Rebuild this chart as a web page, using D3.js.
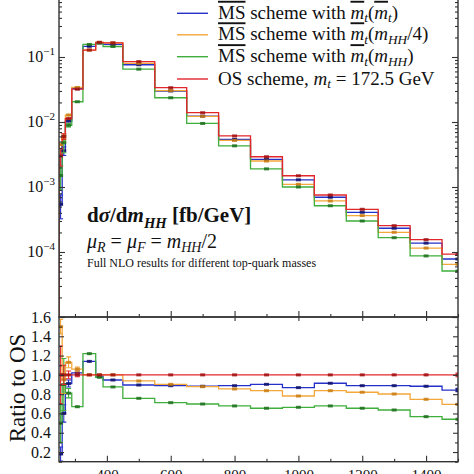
<!DOCTYPE html>
<html><head><meta charset="utf-8">
<script src="https://cdn.jsdelivr.net/npm/d3@7"></script>
<style>
html,body{margin:0;padding:0;background:#fff;}
svg{display:block;font-family:"Liberation Serif","Times New Roman",serif;}
</style>
</head><body>
<svg id="chart" width="474" height="474"></svg>
<script>
// ---------- data ----------
const binEdges = [250, 260, 270, 290, 325, 365, 388, 450, 550, 650, 750, 850, 950, 1050, 1150, 1250, 1350, 1450, 1550];

const seriesKeys   = ["msbarMt", "msbarMhh4", "msbarMhh", "os"];
const seriesColors = ["#2430c8", "#f4a73a", "#3fae3c", "#e3262b"];
const markerColors = ["#10106a", "#c97d12", "#1f6f1f", "#a01010"];

// dsigma/dm_HH [fb/GeV]
const xsMsbarMt   = [0.00054, 0.0036, 0.0103, 0.0326, 0.146, 0.166, 0.156, 0.076, 0.0300, 0.0123, 0.0054, 0.00267, 0.00129, 0.000695, 0.000408, 0.000232, 0.000137, 0.000078];
const xsMsbarMhh4 = [0.0045, 0.0057, 0.0128, 0.0340, 0.128, 0.168, 0.165, 0.080, 0.0304, 0.0122, 0.0052, 0.00251, 0.00110, 0.000610, 0.000363, 0.000201, 0.000115, 0.0000646];
const xsMsbarMhh  = [0.0015, 0.0048, 0.0089, 0.0205, 0.156, 0.163, 0.145, 0.065, 0.0236, 0.0095, 0.0043, 0.00190, 0.00100, 0.000515, 0.000300, 0.000166, 0.0000870, 0.0000510];
const xsOS        = [0.0030, 0.0060, 0.0113, 0.0320, 0.128, 0.168, 0.165, 0.085, 0.0337, 0.0139, 0.0061, 0.00292, 0.00149, 0.000753, 0.000454, 0.000254, 0.000155, 0.0000930];

// ratio to OS
const ratioMsbarMt   = [0.18, 0.60, 0.91, 1.02, 1.14, 0.99, 0.947, 0.895, 0.888, 0.882, 0.888, 0.902, 0.868, 0.913, 0.888, 0.888, 0.882, 0.843];
const ratioMsbarMhh4 = [1.50, 0.95, 1.13, 1.06, 1.00, 1.00, 1.00, 0.937, 0.902, 0.878, 0.854, 0.836, 0.781, 0.836, 0.820, 0.802, 0.747, 0.695];
const ratioMsbarMhh  = [0.50, 0.90, 0.81, 0.67, 1.22, 0.975, 0.875, 0.757, 0.712, 0.698, 0.678, 0.654, 0.664, 0.678, 0.654, 0.636, 0.567, 0.540];
const ratioOS        = [1, 1, 1, 1, 1, 1, 1, 1, 1, 1, 1, 1, 1, 1, 1, 1, 1, 1];

// relative statistical uncertainties
const errMsbarMt   = [0.40, 0.15, 0.04, 0.02, 0.01, 0.01, 0.006, 0.005, 0.005, 0.005, 0.006, 0.006, 0.008, 0.008, 0.010, 0.012, 0.015, 0.020];
const errMsbarMhh4 = [0.05, 0.15, 0.05, 0.02, 0.01, 0.01, 0.006, 0.005, 0.005, 0.005, 0.006, 0.006, 0.008, 0.008, 0.010, 0.012, 0.015, 0.020];
const errMsbarMhh  = [0.40, 0.30, 0.06, 0.02, 0.01, 0.01, 0.006, 0.005, 0.005, 0.005, 0.006, 0.006, 0.008, 0.008, 0.010, 0.012, 0.015, 0.020];
const errOS        = [0.30, 0.10, 0.04, 0.02, 0.01, 0.01, 0.006, 0.005, 0.005, 0.005, 0.006, 0.006, 0.008, 0.008, 0.010, 0.012, 0.015, 0.020];

const xTickMajor = [400, 600, 800, 1000, 1200, 1400];
const xTickMinor = [300, 500, 700, 900, 1100, 1300, 1500];
const logTickLabels = [1e-4, 1e-3, 1e-2, 1e-1];
const ratioTickMajor = [0.2, 0.4, 0.6, 0.8, 1.0, 1.2, 1.4, 1.6];
const ratioTickMinor = [0.1, 0.3, 0.5, 0.7, 0.9, 1.1, 1.3, 1.5];

const xsSeries    = [xsMsbarMt, xsMsbarMhh4, xsMsbarMhh, xsOS];
const ratioSeries = [ratioMsbarMt, ratioMsbarMhh4, ratioMsbarMhh, ratioOS];
const errSeries   = [errMsbarMt, errMsbarMhh4, errMsbarMhh, errOS];

// ---------- layout ----------
const L = 59, R = 458, topT = -8, mid = 317, bot = 461.7;
const svg = d3.select("#chart");
const axisColor = "#333";

const x = d3.scaleLinear().domain([250, 1500]).range([L, R]);
const yTop = d3.scaleLog().domain([1e-5, 1]).range([mid, topT]);
const yRat = d3.scaleLinear().domain([0.1, 1.6]).range([bot, mid]);

const defs = svg.append("defs");
defs.append("clipPath").attr("id", "clipTop").append("rect")
  .attr("x", L).attr("y", topT).attr("width", R - L).attr("height", mid - topT);
defs.append("clipPath").attr("id", "clipRat").append("rect")
  .attr("x", L).attr("y", mid).attr("width", R - L).attr("height", bot - mid);

// ---------- histograms ----------
function stepPath(vals, y, fromBottom, yBottom) {
  let p = "";
  if (fromBottom) p += `M${x(binEdges[0])},${yBottom}L${x(binEdges[0])},${y(vals[0])}`;
  else p += `M${x(binEdges[0])},${y(vals[0])}`;
  vals.forEach((v, i) => {
    if (i > 0) p += `L${x(binEdges[i])},${y(v)}`;
    p += `L${x(binEdges[i + 1])},${y(v)}`;
  });
  return p;
}

function drawPanel(g, dataArr, y, isRatio) {
  dataArr.forEach((vals, s) => {
    g.append("path").attr("d", stepPath(vals, y, !isRatio, mid))
      .attr("fill", "none").attr("stroke", seriesColors[s]).attr("stroke-width", 1.3);
  });
  dataArr.forEach((vals, s) => {
    const errs = errSeries[s];
    vals.forEach((v, i) => {
      const cx = x((binEdges[i] + binEdges[i + 1]) / 2);
      const lo = y(Math.max(v * (1 - errs[i]), isRatio ? 0.05 : 1e-6));
      const hi = y(v * (1 + errs[i]));
      g.append("line").attr("x1", cx).attr("x2", cx).attr("y1", lo).attr("y2", hi)
        .attr("stroke", seriesColors[s]).attr("stroke-width", 1.1);
      if (Math.abs(lo - hi) > 3) {
        [lo, hi].forEach(yy => g.append("line").attr("x1", cx - 2.5).attr("x2", cx + 2.5)
          .attr("y1", yy).attr("y2", yy).attr("stroke", seriesColors[s]).attr("stroke-width", 1.1));
      }
      g.append("rect").attr("x", cx - 2.5).attr("y", y(v) - 1.5).attr("width", 5).attr("height", 3)
        .attr("fill", markerColors[s]).attr("opacity", 0.85);
    });
  });
}

const gTop = svg.append("g").attr("clip-path", "url(#clipTop)");
drawPanel(gTop, xsSeries, yTop, false);
const gRat = svg.append("g").attr("clip-path", "url(#clipRat)");
drawPanel(gRat, ratioSeries, yRat, true);

// ---------- axes ----------
function styleAxis(g) {
  g.select(".domain").remove();
  g.selectAll("line").attr("stroke", axisColor).attr("stroke-width", 1.1);
  g.selectAll("text").attr("fill", "#111").attr("font-family", "Liberation Serif, serif");
}
const logMinor = [];
for (let e = -5; e < 0; e++) for (let k = 2; k <= 9; k++) logMinor.push(k * Math.pow(10, e));
const logMajor = [1e-5, 1e-4, 1e-3, 1e-2, 1e-1, 1];

// upper panel left
svg.append("g").attr("transform", `translate(${L},0)`)
  .call(d3.axisLeft(yTop).tickValues(logMinor).tickSize(-3).tickFormat("")).call(styleAxis);
svg.append("g").attr("transform", `translate(${L},0)`)
  .call(d3.axisLeft(yTop).tickValues(logMajor).tickSize(-6).tickFormat("")).call(styleAxis);
logTickLabels.forEach(v => {
  const t = svg.append("text").attr("x", L - 4).attr("y", yTop(v) + 5)
    .attr("text-anchor", "end").attr("font-size", 16).attr("fill", "#111");
  t.append("tspan").text("10");
  t.append("tspan").attr("dy", -7).attr("font-size", 11).text("\u2212" + Math.round(-Math.log10(v)));
});
// upper panel right
svg.append("g").attr("transform", `translate(${R},0)`)
  .call(d3.axisLeft(yTop).tickValues(logMinor).tickSize(3).tickFormat("")).call(styleAxis);
svg.append("g").attr("transform", `translate(${R},0)`)
  .call(d3.axisLeft(yTop).tickValues(logMajor).tickSize(6).tickFormat("")).call(styleAxis);
// upper panel bottom (ticks upward)
svg.append("g").attr("transform", `translate(0,${mid})`)
  .call(d3.axisBottom(x).tickValues(xTickMajor).tickSize(-6).tickFormat("")).call(styleAxis);
svg.append("g").attr("transform", `translate(0,${mid})`)
  .call(d3.axisBottom(x).tickValues(xTickMinor).tickSize(-3).tickFormat("")).call(styleAxis);
// ratio top (ticks downward)
svg.append("g").attr("transform", `translate(0,${mid})`)
  .call(d3.axisTop(x).tickValues(xTickMajor).tickSize(-4).tickFormat("")).call(styleAxis);
// ratio left
svg.append("g").attr("transform", `translate(${L},0)`)
  .call(d3.axisLeft(yRat).tickValues(ratioTickMajor).tickSize(-5).tickPadding(8).tickFormat(d3.format(".1f")))
  .call(styleAxis).call(g => g.selectAll("text").attr("font-size", 16));
svg.append("g").attr("transform", `translate(${L},0)`)
  .call(d3.axisLeft(yRat).tickValues(ratioTickMinor).tickSize(-3).tickFormat("")).call(styleAxis);
// ratio right
svg.append("g").attr("transform", `translate(${R},0)`)
  .call(d3.axisLeft(yRat).tickValues(ratioTickMajor).tickSize(5).tickFormat("")).call(styleAxis);
svg.append("g").attr("transform", `translate(${R},0)`)
  .call(d3.axisLeft(yRat).tickValues(ratioTickMinor).tickSize(3).tickFormat("")).call(styleAxis);
// ratio bottom
svg.append("g").attr("transform", `translate(0,${bot})`)
  .call(d3.axisBottom(x).tickValues(xTickMajor).tickSize(-6).tickPadding(8).tickFormat(d3.format("d")))
  .call(styleAxis).call(g => g.selectAll("text").attr("font-size", 15));
svg.append("g").attr("transform", `translate(0,${bot})`)
  .call(d3.axisBottom(x).tickValues(xTickMinor).tickSize(-3).tickFormat("")).call(styleAxis);

// frames
svg.append("rect").attr("x", L).attr("y", topT).attr("width", R - L).attr("height", mid - topT)
  .attr("fill", "none").attr("stroke", axisColor).attr("stroke-width", 1.4);
svg.append("rect").attr("x", L).attr("y", mid).attr("width", R - L).attr("height", bot - mid)
  .attr("fill", "none").attr("stroke", axisColor).attr("stroke-width", 1.4);

// ---------- texts ----------
function rich(sel, parts, fs, subShift) {
  let shift = 0;
  parts.forEach(p => {
    const target = p.sub ? (subShift !== undefined ? subShift : Math.round(fs * 0.28)) : 0;
    const ts = sel.append("tspan").text(p.t);
    if (target !== shift) { ts.attr("dy", target - shift); shift = target; }
    if (p.sub) ts.attr("font-size", fs * 0.7);
    if (p.it) ts.attr("font-style", "italic");
    if (p.ov) ts.style("text-decoration", "overline");
  });
}

const legendParts = [
  [{t: "MS", ov: 1}, {t: " scheme with "}, {t: "m", it: 1, ov: 1}, {t: "t", it: 1, sub: 1}, {t: "("}, {t: "m", it: 1, ov: 1}, {t: "t", it: 1, sub: 1}, {t: ")"}],
  [{t: "MS", ov: 1}, {t: " scheme with "}, {t: "m", it: 1, ov: 1}, {t: "t", it: 1, sub: 1}, {t: "("}, {t: "m", it: 1}, {t: "HH", it: 1, sub: 1}, {t: "/4)"}],
  [{t: "MS", ov: 1}, {t: " scheme with "}, {t: "m", it: 1, ov: 1}, {t: "t", it: 1, sub: 1}, {t: "("}, {t: "m", it: 1}, {t: "HH", it: 1, sub: 1}, {t: ")"}],
  [{t: "OS scheme, "}, {t: "m", it: 1}, {t: "t", it: 1, sub: 1}, {t: " = 172.5 GeV"}]
];
const legendY = [13.3, 34.8, 56.7, 79];
legendParts.forEach((parts, i) => {
  svg.append("line").attr("x1", 177).attr("x2", 208).attr("y1", legendY[i]).attr("y2", legendY[i])
    .attr("stroke", seriesColors[i]).attr("stroke-width", 1.4);
  const t = svg.append("text").attr("x", 218).attr("y", legendY[i] + 5.5).attr("font-size", 19).attr("fill", "#111");
  rich(t, parts, 19, 3.5);
});

const t1 = svg.append("text").attr("x", 87).attr("y", 222).attr("font-size", 21).attr("font-weight", "bold").attr("fill", "#111");
rich(t1, [{t: "d"}, {t: "σ", it: 1}, {t: "/d"}, {t: "m", it: 1}, {t: "HH", it: 1, sub: 1}, {t: " [fb/GeV]"}], 21);

const t2 = svg.append("text").attr("x", 87).attr("y", 248).attr("font-size", 20).attr("fill", "#111");
rich(t2, [{t: "μ", it: 1}, {t: "R", it: 1, sub: 1}, {t: " = "}, {t: "μ", it: 1}, {t: "F", it: 1, sub: 1}, {t: " = "}, {t: "m", it: 1}, {t: "HH", it: 1, sub: 1}, {t: "/2"}], 20, 4);

svg.append("text").attr("x", 87).attr("y", 267).attr("font-size", 12).attr("fill", "#111")
  .text("Full NLO results for different top-quark masses");

svg.append("text").attr("transform", "translate(25,388) rotate(-90)").attr("text-anchor", "middle")
  .attr("font-size", 23).attr("fill", "#111").text("Ratio to OS");
</script>
</body></html>
